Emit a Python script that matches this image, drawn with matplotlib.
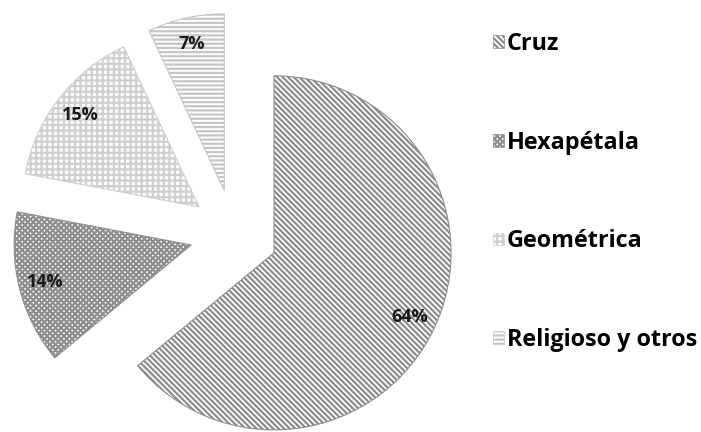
import matplotlib.pyplot as plt
from matplotlib.patches import Patch

plt.rcParams['font.family'] = ['Open Sans', 'DejaVu Sans']
plt.rcParams['hatch.linewidth'] = 1.6

categorias = ["Cruz", "Hexapétala", "Geométrica", "Religioso y otros"]
porcentajes = [64, 14, 15, 7]
tramas = ["\\" * 6, "xxxxxx", "+++", "----"]
colores_trama = ["#8c8c8c", "#8f8f8f", "#cfcfcf", "#c6c6c6"]

W, H = 701, 432
fig = plt.figure(figsize=(W / 100, H / 100), dpi=100)
ax = fig.add_axes([0, 0, 1, 1])

# pie centre and radius in pixels
cx, cy, r = 234, 234, 177

wedges, _, autotexts = ax.pie(
    porcentajes,
    explode=[0.25] * len(porcentajes),
    startangle=90,
    counterclock=False,
    autopct='%1.0f%%',
    pctdistance=0.85,
    radius=1,
    frame=True,
)
ax.set_aspect('auto')
ax.set_xlim(-cx / r, (W - cx) / r)
ax.set_ylim(-(H - cy) / r, cy / r)
ax.axis('off')

for w, h, c in zip(wedges, tramas, colores_trama):
    w.set_facecolor('white')
    w.set_hatch(h)
    w.set_edgecolor(c)
    w.set_linewidth(0.8)

for t in autotexts:
    t.set_fontsize(13)
    t.set_fontweight('bold')
    t.set_color('#1a1a1a')

handles = [Patch(facecolor='white', edgecolor=c, hatch=h, linewidth=0.5)
           for h, c in zip(tramas, colores_trama)]
fig.legend(handles, categorias, loc='upper left',
           bbox_to_anchor=(493 / W, 1 - 32 / H), frameon=False,
           prop={'weight': 'bold', 'size': 16.8},
           handlelength=0.45, handleheight=0.45, handletextpad=0.15,
           labelspacing=3.2, borderaxespad=0, borderpad=0)

fig.savefig('out.png', dpi=100)
